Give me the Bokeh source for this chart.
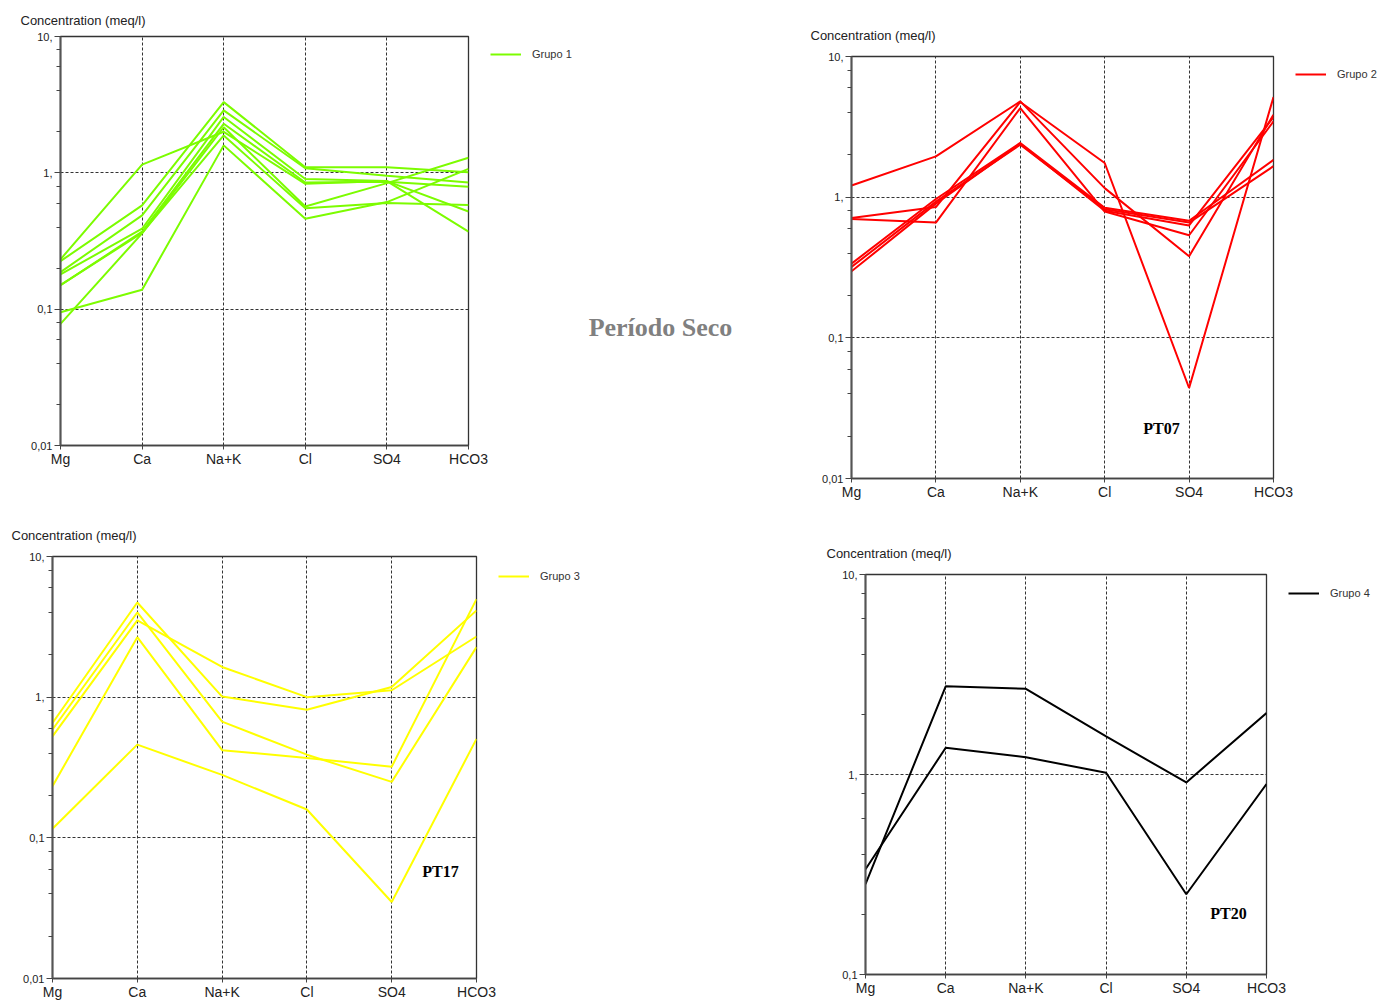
from bokeh.plotting import figure
from bokeh.layouts import column, row
from bokeh.models import (FixedTicker, CustomJSTickFormatter, Label, Legend,
                          LegendItem, Range1d)
from bokeh.embed import file_html
from bokeh.resources import INLINE

# ---------------- data ----------------
ions = ["Mg", "Ca", "Na+K", "Cl", "SO4", "HCO3"]
axis_title = "Concentration (meq/l)"
main_title = "Período Seco"

grupo1 = [
    [0.095, 0.139, 1.59, 0.46, 0.61, 1.07],
    [0.078, 0.36, 2.16, 0.567, 0.84, 1.29],
    [0.232, 1.15, 2.0, 0.83, 0.87, 0.37],
    [0.225, 0.577, 3.3, 1.1, 1.1, 1.01],
    [0.187, 0.488, 2.87, 1.08, 0.95, 0.85],
    [0.18, 0.389, 2.57, 0.9, 0.87, 0.52],
    [0.15, 0.37, 2.29, 0.85, 0.86, 0.79],
    [0.15, 0.363, 1.88, 0.55, 0.6, 0.58],
]
grupo2 = [
    [1.21, 1.95, 4.8, 1.16, 0.38, 3.86],
    [0.71, 0.85, 4.75, 1.75, 0.044, 5.15],
    [0.70, 0.66, 4.3, 0.79, 0.536, 3.46],
    [0.337, 0.97, 2.43, 0.84, 0.68, 1.84],
    [0.319, 0.93, 2.36, 0.82, 0.66, 1.66],
    [0.297, 0.90, 2.40, 0.80, 0.63, 3.7],
]
grupo3 = [
    [0.656, 4.71, 1.01, 0.815, 1.18, 4.14],
    [0.59, 4.0, 0.67, 0.39, 0.25, 2.27],
    [0.527, 3.51, 1.64, 1.0, 1.12, 2.70],
    [0.233, 2.67, 0.42, 0.37, 0.32, 4.98],
    [0.116, 0.46, 0.28, 0.159, 0.035, 0.505],
]
grupo4 = [
    [0.283, 2.76, 2.68, 1.55, 0.913, 2.03],
    [0.336, 1.36, 1.22, 1.02, 0.252, 0.896],
]

group_labels = ["Grupo 1", "Grupo 2", "Grupo 3", "Grupo 4"]
group_colors = ["#7CFC00", "#FF0000", "#FFFF00", "#000000"]
notes = [None, "PT07", "PT17", "PT20"]

FONT = "Liberation Sans"
SERIF = "Liberation Serif"


def make_panel(samples, color, ymin, fw, fh, ml, mr, mt, mb,
               title_offset, title_standoff, note=None, note_xy=None):
    p = figure(frame_width=fw, frame_height=fh, y_axis_type="log",
               x_range=Range1d(0, len(ions) - 1), y_range=Range1d(ymin, 10),
               output_backend="svg", toolbar_location=None,
               min_border_left=ml, min_border_right=mr,
               min_border_top=mt, min_border_bottom=mb)
    p.background_fill_color = "white"
    p.border_fill_color = "white"
    p.outline_line_color = "#333333"
    p.outline_line_width = 1.3

    # axis title placed above the axis, left of the frame
    p.title.text = axis_title
    p.title.align = "left"
    p.title.offset = title_offset
    p.title.standoff = title_standoff
    p.title.vertical_align = "bottom"
    p.title.text_font = FONT
    p.title.text_font_size = "13px"
    p.title.text_font_style = "normal"
    p.title.text_color = "#222222"

    xs = list(range(len(ions)))
    for s in samples:
        p.line(xs, s, line_color=color, line_width=2)

    # x axis
    xa = p.xaxis[0]
    xa.ticker = FixedTicker(ticks=xs)
    xa.major_label_overrides = {i: n for i, n in enumerate(ions)}
    xa.major_label_text_font = FONT
    xa.major_label_text_font_size = "14px"
    xa.major_label_text_color = "#222222"
    xa.major_tick_out = 4
    xa.major_tick_in = 0
    xa.major_label_standoff = 1
    xa.minor_tick_line_color = None
    xa.axis_line_color = "#444444"
    xa.axis_line_width = 1.5
    xa.major_tick_line_color = "#444444"

    # y axis
    decades = [d for d in [0.01, 0.1, 1, 10] if d >= ymin]
    minors = []
    for d in decades[:-1]:
        minors += [d * m for m in (2, 4, 6, 8)]
    ya = p.yaxis[0]
    ya.ticker = FixedTicker(ticks=decades, minor_ticks=minors)
    ya.formatter = CustomJSTickFormatter(code="""
        return tick >= 1 ? tick.toFixed(0) + "," : tick.toString().replace(".", ",");
    """)
    ya.major_label_text_font = FONT
    ya.major_label_text_font_size = "11px"
    ya.major_label_text_color = "#222222"
    ya.major_tick_out = 6
    ya.major_tick_in = 0
    ya.minor_tick_out = 4
    ya.minor_tick_in = 0
    ya.major_label_standoff = 2
    ya.axis_line_color = "#555555"
    ya.axis_line_width = 2
    ya.major_tick_line_color = "#444444"
    ya.minor_tick_line_color = "#444444"

    # grids
    for g in (p.xgrid[0], p.ygrid[0]):
        g.grid_line_color = "#333333"
        g.grid_line_dash = "3 2"
        g.grid_line_width = 1
    p.ygrid[0].minor_grid_line_color = None

    if note:
        p.add_layout(Label(x=note_xy[0], y=note_xy[1], x_units="screen", y_units="screen",
                           text=note, text_font=SERIF, text_font_style="bold",
                           text_font_size="16px", text_color="#000000",
                           text_baseline="middle", text_align="center"))
    return p


def make_side(samples, color, label, w, h, legend_bottom):
    """Blank strip right of a panel that holds its legend."""
    # ranges far from the data: the legend's renderer is kept out of view
    f = figure(frame_width=w, frame_height=h, x_range=Range1d(-20, -19),
               y_range=Range1d(-20, -19), x_axis_location=None, y_axis_location=None,
               min_border_left=0, min_border_right=0, min_border_top=0,
               min_border_bottom=0, output_backend="svg", toolbar_location=None)
    f.outline_line_color = None
    f.grid.visible = False
    r = f.line(list(range(len(ions))), samples[0], line_color=color, line_width=2)
    legend = Legend(items=[LegendItem(label=label, renderers=[r])],
                    location=(0, legend_bottom), margin=0, padding=0,
                    glyph_width=31, glyph_height=12, label_height=12,
                    label_standoff=11, border_line_alpha=0,
                    background_fill_alpha=0,
                    label_text_font=FONT, label_text_font_size="11px",
                    label_text_color="#333333")
    f.add_layout(legend)
    return f


# top row (height 510)
p1 = make_panel(grupo1, group_colors[0], 0.01, 408, 409,
                60, 22, 36, 65, title_offset=-40, title_standoff=18)
s1 = make_side(grupo1, group_colors[0], group_labels[0], 290, 510, 450)
s1.add_layout(Label(x=170, y=183, x_units="screen", y_units="screen",
                    text=main_title, text_font=SERIF, text_font_style="bold",
                    text_font_size="26px", text_color="#808080",
                    text_align="center", text_baseline="middle"))
p2 = make_panel(grupo2, group_colors[1], 0.01, 422, 422,
                71, 22, 56, 32, title_offset=-41, title_standoff=28,
                note=notes[1], note_xy=(310, 50))
s2 = make_side(grupo2, group_colors[1], group_labels[1], 90, 510, 430)

# bottom row (height 493)
p3 = make_panel(grupo3, group_colors[2], 0.01, 424, 422,
                52, 22, 46, 25, title_offset=-41, title_standoff=28,
                note=notes[2], note_xy=(388, 107))
s3 = make_side(grupo3, group_colors[2], group_labels[2], 282, 493, 421)
p4 = make_panel(grupo4, group_colors[3], 0.1, 401, 400,
                85, 22, 64, 29, title_offset=-39, title_standoff=28,
                note=notes[3], note_xy=(363, 61))
s4 = make_side(grupo4, group_colors[3], group_labels[3], 97, 493, 404)

layout = column(
    row(column(p1), column(s1), column(p2), column(s2)),
    row(column(p3), column(s3), column(p4), column(s4)),
)

html = file_html(layout, INLINE)
open("out.html", "w").write(html)
